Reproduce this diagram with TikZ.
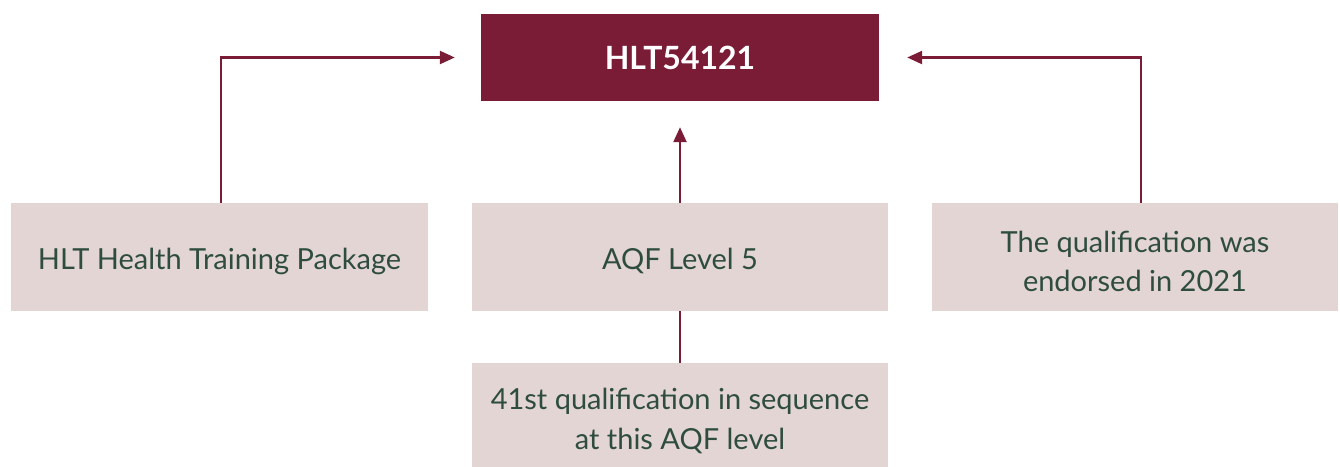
\documentclass[tikz,border=0pt]{standalone}
\usepackage{fontspec}
\setmainfont{Lato}
\usetikzlibrary{arrows.meta}
\definecolor{wine}{HTML}{7B1C37}
\definecolor{blush}{HTML}{E3D5D4}
\definecolor{ink}{HTML}{2F4D3F}
\tikzset{
  infobox/.style={fill=blush, draw=none, inner sep=0pt},
  infotext/.style={inner sep=0pt, align=center, text=ink,
    font=\fontsize{29}{39.5}\selectfont},
  titlebox/.style={fill=wine, draw=none, inner sep=0pt, text=white,
    font=\fontsize{32}{38}\selectfont\bfseries},
  link/.style={draw=wine, line width=2.4pt},
  linkarrow/.style={link, -{Triangle[length=15pt,width=13pt]}},
}
\begin{document}
\begin{tikzpicture}[x=1pt,y=-1pt]
  \useasboundingbox (0,0) rectangle (1340,466);
  % top qualification code
  \node[titlebox, minimum width=398pt, minimum height=87pt] (code) at (680,57.5) {HLT54121};
  % descriptor boxes, captions set slightly below centre
  \node[infobox, minimum width=417pt, minimum height=108pt,
    label={[infotext, yshift=-4pt]center:HLT Health Training Package}] (pkg) at (219.5,257) {};
  \node[infobox, minimum width=416pt, minimum height=108pt,
    label={[infotext, yshift=-4pt]center:AQF Level 5}] (aqf) at (680,257) {};
  \node[infobox, minimum width=406pt, minimum height=108pt,
    label={[infotext, yshift=-4.5pt]center:{The qualification was\\endorsed in 2021}}] (year) at (1135,257) {};
  \node[infobox, minimum width=416pt, minimum height=104pt,
    label={[infotext, yshift=-6pt]center:{41st qualification in sequence\\at this AQF level}}] (seq) at (680,415) {};
  % connectors
  \coordinate (pkgend) at ([xshift=-26pt]code.west);
  \coordinate (yearend) at ([xshift=28pt]code.east);
  \coordinate (aqfend) at ([yshift=-26pt]code.south);
  \draw[linkarrow] ([xshift=1.5pt]pkg.north) |- (pkgend);
  \draw[linkarrow] ([xshift=6pt]year.north) |- (yearend);
  \draw[linkarrow] (aqf.north) -- (aqfend);
  \draw[link] (aqf.south) -- (seq.north);
\end{tikzpicture}
\end{document}
